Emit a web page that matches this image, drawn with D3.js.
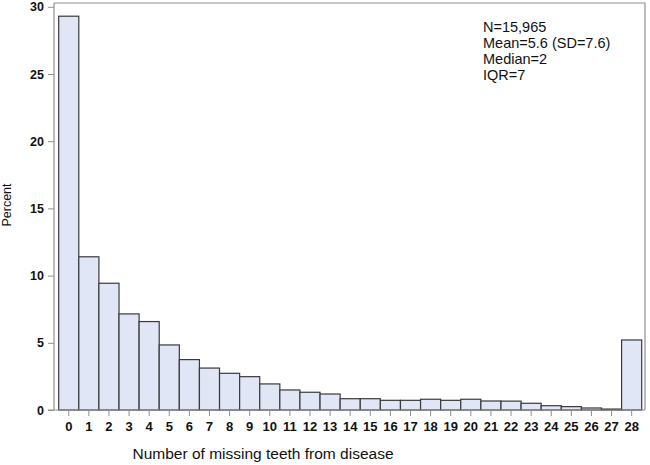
<!DOCTYPE html>
<html>
<head>
<meta charset="utf-8">
<script src="https://cdn.jsdelivr.net/npm/d3@7"></script>
<style>
  html, body { margin: 0; padding: 0; background: #fff; }
  svg { display: block; font-family: "Liberation Sans", Arial, sans-serif; }
</style>
</head>
<body>
<svg id="chart" width="650" height="465"></svg>
<script>
const categories = d3.range(0, 29).map(String);
const percents = [29.3, 11.4, 9.43, 7.15, 6.58, 4.84, 3.75, 3.12, 2.73, 2.48,
                  1.94, 1.49, 1.32, 1.19, 0.84, 0.84, 0.72, 0.72, 0.8, 0.72,
                  0.8, 0.67, 0.66, 0.5, 0.32, 0.25, 0.15, 0.07, 5.21];
const yTicks = [0, 5, 10, 15, 20, 25, 30];
const statLines = ["N=15,965", "Mean=5.6 (SD=7.6)", "Median=2", "IQR=7"];
const xTitle = "Number of missing teeth from disease";
const yTitle = "Percent";

const svg = d3.select("#chart");
const frame = { left: 54, right: 645, top: 3, bottom: 410 };

const x = d3.scaleBand().domain(categories).range([58.7, 641.7]).padding(0);
const y = d3.scaleLinear().domain([0, 30]).range([410, 6.8]);

const frameColor = "#8f8f8f";

// frame (top & right)
svg.append("path")
  .attr("d", `M${frame.left},${frame.top}H${frame.right}V${frame.bottom}`)
  .attr("fill", "none").attr("stroke", frameColor).attr("stroke-width", 1.2);

// bars
svg.append("g").selectAll("rect")
  .data(percents)
  .join("rect")
  .attr("x", (d, i) => x(categories[i]))
  .attr("y", d => y(d))
  .attr("width", x.bandwidth())
  .attr("height", d => y(0) - y(d))
  .attr("fill", "#e0e6f5")
  .attr("stroke", "#3a3a3a")
  .attr("stroke-width", 1.2);

// y axis
const yAxis = svg.append("g")
  .attr("transform", `translate(${frame.left},0)`)
  .call(d3.axisLeft(y).tickValues(yTicks).tickSize(6).tickPadding(4));
yAxis.select(".domain").attr("stroke", frameColor).attr("stroke-width", 1.2)
  .attr("d", `M0,${frame.top}V${frame.bottom}`);
yAxis.selectAll(".tick line").attr("stroke", frameColor);
yAxis.selectAll(".tick text")
  .attr("font-size", 12.5).attr("font-weight", "bold").attr("fill", "#111");

// x axis
const xAxis = svg.append("g")
  .attr("transform", `translate(0,${frame.bottom})`)
  .call(d3.axisBottom(x).tickSize(6).tickPadding(6));
xAxis.select(".domain").attr("stroke", frameColor).attr("stroke-width", 1.2)
  .attr("d", `M${frame.left - 6},0H${frame.right}`);
xAxis.selectAll(".tick line").attr("stroke", frameColor);
xAxis.selectAll(".tick text")
  .attr("font-size", 13).attr("font-weight", "bold").attr("fill", "#111");

// titles
svg.append("text")
  .attr("x", 263).attr("y", 459)
  .attr("text-anchor", "middle")
  .attr("font-size", 15.5).attr("fill", "#111")
  .text(xTitle);

svg.append("text")
  .attr("transform", "translate(11,205) rotate(-90)")
  .attr("text-anchor", "middle")
  .attr("font-size", 12.5).attr("fill", "#111")
  .text(yTitle);

// stats annotation
svg.append("g").selectAll("text")
  .data(statLines)
  .join("text")
  .attr("x", 483)
  .attr("y", (d, i) => 31.5 + i * 16.3)
  .attr("font-size", 14.5).attr("fill", "#111")
  .text(d => d);
</script>
</body>
</html>
